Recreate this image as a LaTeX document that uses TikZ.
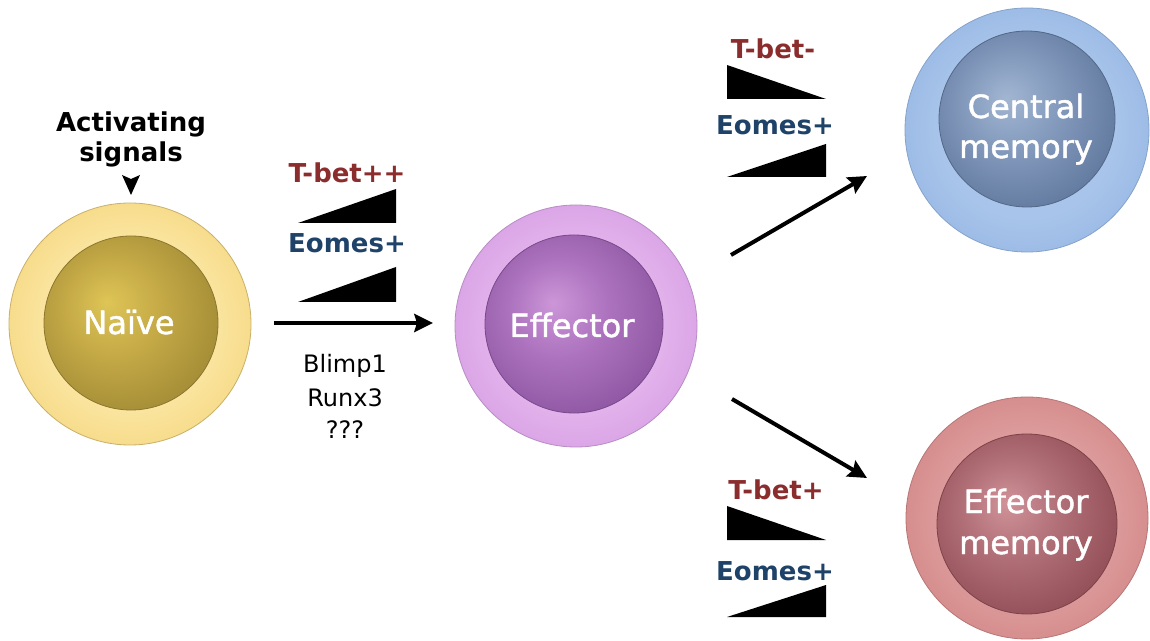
\documentclass[tikz,border=0pt]{standalone}
\usepackage{fontspec}
\setmainfont{DejaVu Sans}
\newfontfamily\cellfont[FakeBold=1.4]{DejaVu Sans}
\usetikzlibrary{arrows.meta}
\definecolor{tbetred}{HTML}{8B2D2D}
\definecolor{eomesblue}{HTML}{1F4268}
% naive
\definecolor{nOutA}{HTML}{FAE49E}\definecolor{nOutB}{HTML}{F7DC8C}\definecolor{nEdge}{HTML}{C9B06A}
\definecolor{nInA}{HTML}{DEC556}\definecolor{nInB}{HTML}{C4A946}\definecolor{nInC}{HTML}{A38C36}
% effector
\definecolor{eOutA}{HTML}{E2B2EC}\definecolor{eOutB}{HTML}{DBA6E6}\definecolor{eEdge}{HTML}{B88CC4}
\definecolor{eInA}{HTML}{CC96D8}\definecolor{eInB}{HTML}{AC72BE}\definecolor{eInC}{HTML}{8E56A2}
% central memory
\definecolor{cOutA}{HTML}{A8C4EA}\definecolor{cOutB}{HTML}{9DBCE6}\definecolor{cEdge}{HTML}{84A2CC}
\definecolor{cInA}{HTML}{A2B6D2}\definecolor{cInB}{HTML}{8299BC}\definecolor{cInC}{HTML}{62799F}
% effector memory
\definecolor{mOutA}{HTML}{DC9A9A}\definecolor{mOutB}{HTML}{D68E8E}\definecolor{mEdge}{HTML}{B87676}
\definecolor{mInA}{HTML}{D09298}\definecolor{mInB}{HTML}{B06E76}\definecolor{mInC}{HTML}{924E56}
\pgfdeclareradialshading{naiveOut}{\pgfpoint{0bp}{0bp}}{color(0bp)=(nOutA); color(18bp)=(nOutA); color(25bp)=(nOutB); color(50bp)=(nOutB)}
\pgfdeclareradialshading{naiveIn}{\pgfpoint{-7bp}{6bp}}{color(0bp)=(nInA); color(14bp)=(nInB); color(30bp)=(nInC); color(50bp)=(nInC)}
\pgfdeclareradialshading{effOut}{\pgfpoint{0bp}{0bp}}{color(0bp)=(eOutA); color(18bp)=(eOutA); color(25bp)=(eOutB); color(50bp)=(eOutB)}
\pgfdeclareradialshading{effIn}{\pgfpoint{-6bp}{6bp}}{color(0bp)=(eInA); color(14bp)=(eInB); color(30bp)=(eInC); color(50bp)=(eInC)}
\pgfdeclareradialshading{cmOut}{\pgfpoint{0bp}{0bp}}{color(0bp)=(cOutA); color(18bp)=(cOutA); color(25bp)=(cOutB); color(50bp)=(cOutB)}
\pgfdeclareradialshading{cmIn}{\pgfpoint{-6bp}{6bp}}{color(0bp)=(cInA); color(14bp)=(cInB); color(30bp)=(cInC); color(50bp)=(cInC)}
\pgfdeclareradialshading{emOut}{\pgfpoint{0bp}{0bp}}{color(0bp)=(mOutA); color(18bp)=(mOutA); color(25bp)=(mOutB); color(50bp)=(mOutB)}
\pgfdeclareradialshading{emIn}{\pgfpoint{-6bp}{6bp}}{color(0bp)=(mInA); color(14bp)=(mInB); color(30bp)=(mInC); color(50bp)=(mInC)}
\tikzset{
  lbl/.style={anchor=base, inner sep=0pt, font=\fontsize{19.5}{23}\selectfont\bfseries},
  txt/.style={anchor=base, inner sep=0pt, font=\fontsize{18}{22}\selectfont},
  celltxt/.style={anchor=base, inner sep=0pt, text=white, font=\cellfont\fontsize{24}{28}\selectfont},
  arr/.style={line width=3pt, -{Stealth[length=14pt, width=13.5pt, inset=2pt]}},
  ring/.style={circle, inner sep=0pt, outer sep=0pt, minimum size=#1*1.5pt, line width=0.6pt},
  wedge/.style={fill=black},
}
\begin{document}
\begin{tikzpicture}[x=0.75pt, y=-0.75pt]
\useasboundingbox[fill=white] (0,0) rectangle (1150,641);
% cells
\node[ring=121, shading=naiveOut, draw=nEdge] (naiveO) at (130,324) {};
\node[ring=87, shading=naiveIn, draw=nInC!85!black] (naiveI) at (131,323) {};
\node[ring=121, shading=effOut, draw=eEdge] (effO) at (576,326) {};
\node[ring=89, shading=effIn, draw=eInC!85!black] (effI) at (574,324) {};
\node[ring=122, shading=cmOut, draw=cEdge] (cmO) at (1027,130) {};
\node[ring=88, shading=cmIn, draw=cInC!85!black] (cmI) at (1027,119) {};
\node[ring=121, shading=emOut, draw=mEdge] (emO) at (1027,518) {};
\node[ring=90, shading=emIn, draw=mInC!85!black] (emI) at (1027,524) {};
% cell labels
\node[celltxt] (tNaive) at (129,334) {Naïve};
\node[celltxt] (tEff) at (572,337) {Effector};
\node[celltxt] (tCm1) at (1026,118) {Central};
\node[celltxt] (tCm2) at (1026,158) {memory};
\node[celltxt] (tEm1) at (1026,513) {Effector};
\node[celltxt] (tEm2) at (1026,554) {memory};
% activating signals
\node[lbl] (act1) at (131,132) {Activating};
\node[lbl] (act2) at (131,162) {signals};
\fill (122,175) -- (131,179) -- (140,175) -- (131,195) -- cycle;
% naive -> effector
\node[lbl, text=tbetred] (tb1) at (347,183) {T-bet++};
\fill[wedge] (298,223) -- (396,189) -- (396,223) -- cycle;
\node[lbl, text=eomesblue] (eo1) at (347,253) {Eomes+};
\fill[wedge] (298,302) -- (396,267) -- (396,302) -- cycle;
\coordinate (a1s) at (274,323);
\coordinate (a1e) at (433,323);
\draw[arr] (a1s) -- (a1e);
\node[txt] (bl) at (345,373) {Blimp1};
\node[txt] (rx) at (345,407) {Runx3};
\node[txt] (qq) at (345,439) {???};
% effector -> central memory
\node[lbl, text=tbetred] (tb2) at (773,59) {T-bet-};
\fill[wedge] (727,65) -- (826,99) -- (727,99) -- cycle;
\node[lbl, text=eomesblue] (eo2) at (775,135) {Eomes+};
\fill[wedge] (727,177) -- (826,144) -- (826,177) -- cycle;
\coordinate (a2s) at (731,255);
\coordinate (a2e) at (867,176);
\draw[arr] (a2s) -- (a2e);
% effector -> effector memory
\coordinate (a3s) at (732,399);
\coordinate (a3e) at (867,478);
\draw[arr] (a3s) -- (a3e);
\node[lbl, text=tbetred] (tb3) at (776,499) {T-bet+};
\fill[wedge] (727,506) -- (826,540) -- (727,540) -- cycle;
\node[lbl, text=eomesblue] (eo3) at (775,580) {Eomes+};
\fill[wedge] (727,617) -- (826,585) -- (826,617) -- cycle;
\end{tikzpicture}
\end{document}
